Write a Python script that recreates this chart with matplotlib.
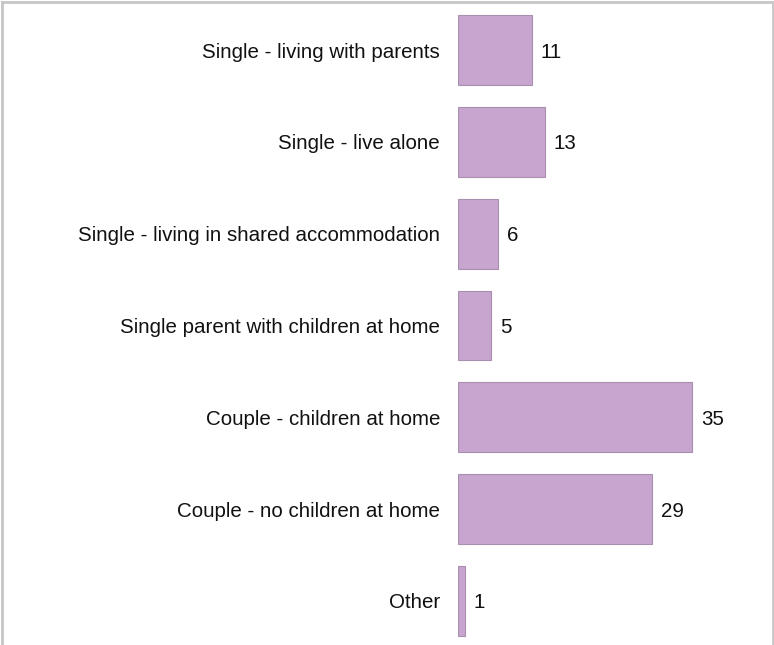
import matplotlib
matplotlib.use("Agg")
import matplotlib.pyplot as plt
from matplotlib.lines import Line2D

plt.rcParams['font.family'] = ['Liberation Sans', 'DejaVu Sans']

categories = [
    "Single - living with parents",
    "Single - live alone",
    "Single - living in shared accommodation",
    "Single parent with children at home",
    "Couple - children at home",
    "Couple - no children at home",
    "Other",
]
values = [11, 13, 6, 5, 35, 29, 1]

W, H = 774, 645
fig = plt.figure(figsize=(W / 100, H / 100), dpi=100)

# axes placed in pixel terms: bars start at x=458, 35 units span ~234 px
left_px, top_px, bottom_px = 458, 4, 645
unit_px = 234 / 35
xmax = 40
ax = fig.add_axes([left_px / W, 1 - bottom_px / H,
                   xmax * unit_px / W, (bottom_px - top_px) / H])

ypos = list(range(len(categories)))
ax.barh(ypos, values, height=0.76, color="#c8a5cf", edgecolor="#a98fae",
        linewidth=0.8)

step = 91.8
ax.set_ylim(6 + (bottom_px - 601) / step, -(50 - top_px) / step)
ax.set_xlim(0, xmax)
ax.axis("off")

fs = 14.8
for y, v, c in zip(ypos, values, categories):
    ax.annotate(str(v), (v, y), xytext=(9, -2), textcoords="offset pixels",
                ha="left", va="center", fontsize=fs, color="#111111")
    ax.annotate(c, (0, y), xytext=(-18, -2), textcoords="offset pixels",
                ha="right", va="center", fontsize=fs, color="#111111")

# frame around the chart (open at the bottom)
gray = "#c6c6c6"
for xs, ys in [((1.5, 1.5), (0, H - 1.5)),
               ((W - 1.5, W - 1.5), (0, H - 1.5)),
               ((1.5, W - 1.5), (H - 1.5, H - 1.5))]:
    fig.add_artist(Line2D([x / W for x in xs], [y / H for y in ys],
                          color=gray, linewidth=2, transform=fig.transFigure))

fig.savefig("out.png", dpi=100)
